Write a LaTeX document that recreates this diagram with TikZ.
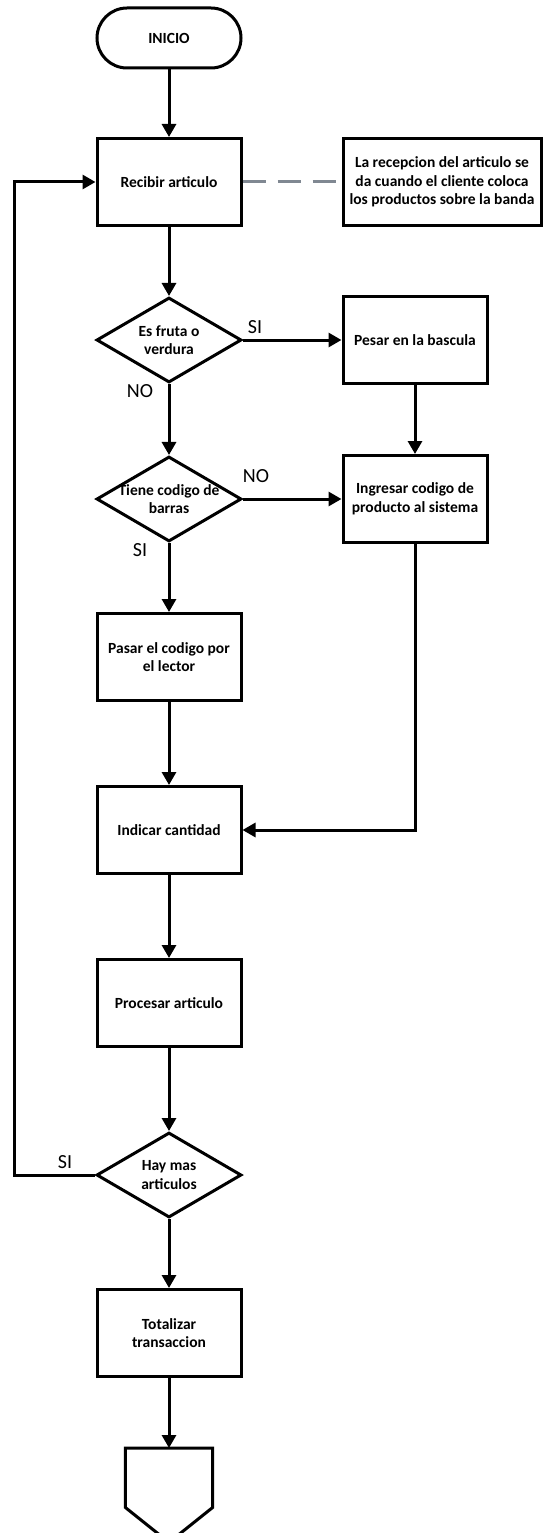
\documentclass[tikz,border=0pt]{standalone}
\usepackage{fontspec}
\setmainfont{Carlito}
\usetikzlibrary{shapes.geometric,arrows.meta,calc}
\definecolor{notegray}{RGB}{128,136,146}
\begin{document}
\begin{tikzpicture}[x=1pt,y=-1pt,
  txt/.style={font=\fontsize{15.5}{18.5}\selectfont\bfseries,align=center,inner sep=0pt},
  lbl/.style={font=\fontsize{20}{22}\selectfont,inner sep=0pt},
  proc/.style={draw,line width=3pt,minimum width=144pt,minimum height=87pt,
    inner sep=0pt,txt},
  term/.style={proc,rounded corners=30pt,minimum height=60pt},
  dec/.style={draw,diamond,line width=3pt,minimum width=145pt,minimum height=85pt,
    shape aspect=1.7,inner sep=0pt},
  conn/.style={line width=3pt,-{Triangle[width=14pt,length=13pt]}},
  link/.style={line width=3pt,notegray,dash pattern=on 23pt off 12pt}]
\useasboundingbox (0,0) rectangle (543,1533);
\clip (0,0) rectangle (543,1533);

% main column
\node[term] (ini) at (169,38) {INICIO};
\node[proc] (rec) at (169,182) {Recibir articulo};
\node[proc,minimum width=198pt] (note) at (442,182)
  {La recepcion del articulo se\\da cuando el cliente coloca\\los productos sobre la banda};
\node[dec] (d1) at (169,340) {};
\node[txt] (d1t) at (d1) {Es fruta o\\verdura};
\node[proc] (pes) at (415,340) {Pesar en la bascula};
\node[dec] (d2) at (169,499) {};
\node[txt] (d2t) at (d2) {Tiene codigo de\\barras};
\node[proc] (ing) at (415,499) {Ingresar codigo de\\producto al sistema};
\node[proc] (pas) at (169,657) {Pasar el codigo por\\el lector};
\node[proc] (ind) at (169,830) {Indicar cantidad};
\node[proc] (pro) at (169,1003) {Procesar articulo};
\node[dec] (d3) at (169,1175) {};
\node[txt] (d3t) at (d3) {Hay mas\\articulos};
\node[proc] (tot) at (169,1333) {Totalizar\\transaccion};
% off-page connector at the end
\node[minimum width=87pt,minimum height=59pt,inner sep=0pt,anchor=north] (fin) at (169,1448) {};
\draw[line width=3pt,line join=miter]
  (fin.north west) -- (fin.north east) -- (fin.south east)
  -- ($(fin.south)+(0,35)$) -- (fin.south west) -- cycle;

\coordinate (loopx) at (14,0);

% connectors
\draw[conn] (ini) -- (rec);
\draw[link] (rec.east) -- (note.west);
\draw[conn] (rec) -- (d1);
\draw[conn] (d1) -- (pes);
\draw[conn] (d1) -- (d2);
\draw[conn] (pes) -- (ing);
\draw[conn] (d2) -- (ing);
\draw[conn] (d2) -- (pas);
\draw[conn] (pas) -- (ind);
\draw[conn] (ing.south) |- (ind.east);
\draw[conn] (ind) -- (pro);
\draw[conn] (pro) -- (d3);
\draw[conn] (d3.west) -- (d3.west -| loopx) |- (rec.west);
\draw[conn] (d3) -- (tot);
\draw[conn] (tot) -- (fin);

% branch labels
\node[lbl] (si1) at (255,327) {SI};
\node[lbl] (no1) at (140,391) {NO};
\node[lbl] (no2) at (256,476) {NO};
\node[lbl] (si2) at (140,550) {SI};
\node[lbl] (si3) at (65,1162) {SI};
\end{tikzpicture}
\end{document}
